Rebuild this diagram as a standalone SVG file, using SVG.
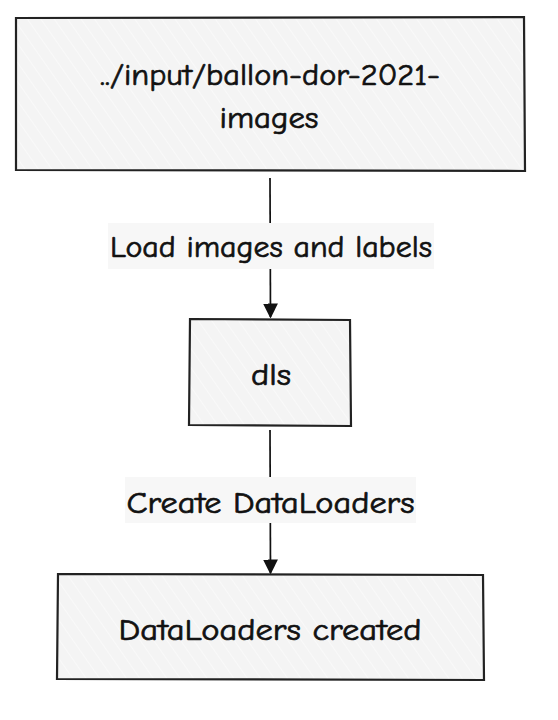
<svg xmlns="http://www.w3.org/2000/svg" width="558" height="720" viewBox="0 0 558 720">
<defs>
<pattern id="hatch" patternUnits="userSpaceOnUse" width="11" height="11" patternTransform="rotate(-35)">
<rect width="11" height="11" fill="#f4f4f4"/>
<line x1="0" y1="0" x2="0" y2="11" stroke="#fbfbfb" stroke-width="1.5"/>
</pattern>
<marker id="arrow" viewBox="0 0 10 10" refX="9" refY="5" markerWidth="15" markerHeight="15" markerUnits="userSpaceOnUse" orient="auto">
<path d="M0,0 L10,5 L0,10 Z" fill="#111"/>
</marker>
<style>
.box{fill:url(#hatch);stroke:#222;stroke-width:2.2;}
.t{font-family:"Comic Sans MS","Comic Neue","Liberation Sans",sans-serif;font-size:30px;fill:#111;stroke:#111;stroke-width:0.7;text-anchor:middle;}
.edge{stroke:#111;stroke-width:1.7;fill:none;}
.lblbg{fill:#f7f7f7;}
</style>
</defs>
<rect width="558" height="720" fill="#ffffff"/>
<g id="connectors">
<path class="edge" d="M270,178 L270.5,317" marker-end="url(#arrow)"/>
<path class="edge" d="M270,430 L270.5,573" marker-end="url(#arrow)"/>
<g id="label1">
<rect class="lblbg" x="108" y="223" width="326" height="46"/>
<text class="t" x="271" y="257" textLength="322" lengthAdjust="spacingAndGlyphs">Load images and labels</text>
</g>
<g id="label2">
<rect class="lblbg" x="125" y="477" width="291" height="46"/>
<text class="t" x="270.5" y="513" textLength="288" lengthAdjust="spacingAndGlyphs">Create DataLoaders</text>
</g>
</g>
<g id="node-input">
<path class="box" d="M16,18 L524,17 L525,171 L16,170 Z"/>
<text class="t" x="270" y="85" textLength="340" lengthAdjust="spacingAndGlyphs">../input/ballon-dor-2021-</text>
<text class="t" x="269" y="128" textLength="99" lengthAdjust="spacingAndGlyphs">images</text>
</g>
<g id="node-dls">
<path class="box" d="M190,319 L350,320 L351,426 L189,425 Z"/>
<text class="t" x="271" y="385" textLength="40" lengthAdjust="spacingAndGlyphs">dls</text>
</g>
<g id="node-created">
<path class="box" d="M58,574 L483,575 L484,680 L57,679 Z"/>
<text class="t" x="270" y="640" textLength="303" lengthAdjust="spacingAndGlyphs">DataLoaders created</text>
</g>
</svg>
